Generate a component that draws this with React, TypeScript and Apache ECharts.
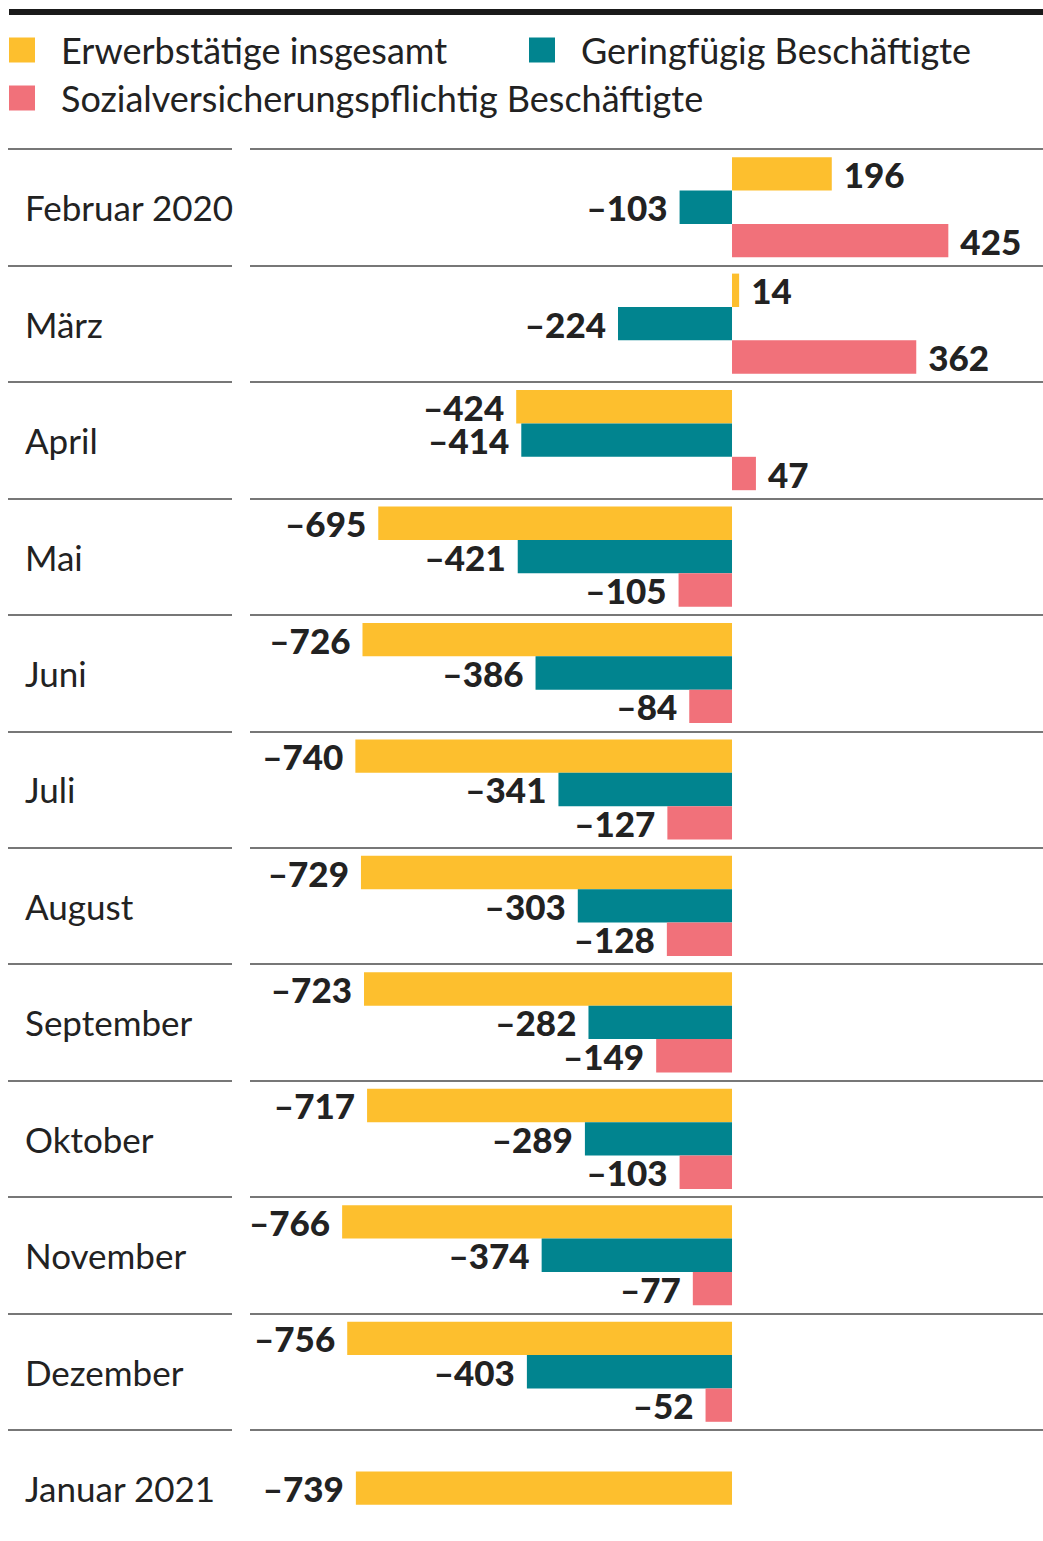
import React, { useEffect, useRef } from "react";
import * as echarts from "echarts";

const months = [
  "Februar 2020", "März", "April", "Mai", "Juni", "Juli", "August",
  "September", "Oktober", "November", "Dezember", "Januar 2021",
];
const erwerbstaetige = [196, 14, -424, -695, -726, -740, -729, -723, -717, -766, -756, -739];
const geringfuegig = [-103, -224, -414, -421, -386, -341, -303, -282, -289, -374, -403, null];
const sozialversichert = [425, 362, 47, -105, -84, -127, -128, -149, -103, -77, -52, null];

const NAME_E = "Erwerbstätige insgesamt";
const NAME_G = "Geringfügig Beschäftigte";
const NAME_S = "Sozialversicherungspflichtig Beschäftigte";
const C_E = "#FDBF2E";
const C_G = "#01848F";
const C_S = "#F1717A";
const FONT = "Lato";
const TEXT = "#222222";

export default function App() {
  const ref = useRef<HTMLDivElement>(null);
  useEffect(() => {
    document.body.style.margin = "0";
    document.body.style.overflow = "hidden";
    document.documentElement.style.overflow = "hidden";
    const chart = echarts.init(ref.current!, null, { renderer: "svg" });
    const top = 149;
    const rowH = 116.45;
    const gridH = rowH * months.length;

    const label = {
      show: true,
      distance: 12,
      fontFamily: FONT,
      fontWeight: 900,
      fontSize: 35,
      color: TEXT,
      formatter: (p: any) => String(p.value).replace("-", "–"),
    };
    const item = (v: number | null, color?: string) =>
      v == null
        ? null
        : {
            value: v,
            itemStyle: color ? { color } : undefined,
            label: { position: v < 0 ? "left" : "right" },
          };

    // Januar 2021 has only the total; it sits in the middle slot
    const dataE = erwerbstaetige.map((v, i) => (geringfuegig[i] == null ? null : item(v)));
    const dataG = geringfuegig.map((v, i) => (v == null ? item(erwerbstaetige[i], C_E) : item(v)));
    const dataS = sozialversichert.map((v) => item(v));

    const legendBase = {
      icon: "rect",
      itemWidth: 26,
      itemHeight: 25,
      padding: 0,
      selectedMode: false,
      textStyle: { fontFamily: FONT, fontSize: 36, color: TEXT, padding: [0, 0, 0, 21] },
    };

    chart.setOption({
      animation: false,
      backgroundColor: "#ffffff",
      legend: [
        { ...legendBase, left: 9, top: 32, data: [NAME_E] },
        { ...legendBase, left: 529, top: 32, data: [NAME_G] },
        { ...legendBase, left: 9, top: 80, data: [NAME_S] },
      ],
      graphic: [
        {
          type: "rect",
          shape: { x: 9, y: 9, width: 1034, height: 6 },
          style: { fill: "#1a1a1a" },
        },
      ],
      grid: [
        { left: 250, right: 0, top, height: gridH },
        { left: 8, width: 224, top, height: gridH },
      ],
      xAxis: [
        { type: "value", gridIndex: 0, min: -947, max: 611, show: false },
        { type: "value", gridIndex: 1, min: 0, max: 1, show: false },
      ],
      yAxis: [
        {
          type: "category",
          gridIndex: 0,
          data: months,
          inverse: true,
          axisLine: { show: false },
          axisTick: { show: false },
          axisLabel: { show: false },
          splitLine: { show: true, lineStyle: { color: "#4a4a4a", width: 1.5 } },
        },
        {
          type: "category",
          gridIndex: 1,
          data: months,
          inverse: true,
          axisLine: { show: false },
          axisTick: { show: false },
          axisLabel: {
            inside: true,
            margin: 17,
            fontFamily: FONT,
            fontSize: 35,
            color: TEXT,
          },
          splitLine: { show: true, lineStyle: { color: "#4a4a4a", width: 1.5 } },
        },
      ],
      series: [
        { name: NAME_E, type: "bar", xAxisIndex: 0, yAxisIndex: 0, data: dataE, itemStyle: { color: C_E }, barGap: "0%", barCategoryGap: "14%", label },
        { name: NAME_G, type: "bar", xAxisIndex: 0, yAxisIndex: 0, data: dataG, itemStyle: { color: C_G }, barGap: "0%", barCategoryGap: "14%", label },
        { name: NAME_S, type: "bar", xAxisIndex: 0, yAxisIndex: 0, data: dataS, itemStyle: { color: C_S }, barGap: "0%", barCategoryGap: "14%", label },
      ],
    });
    return () => chart.dispose();
  }, []);
  return <div ref={ref} style={{ width: 1043, height: 1560 }} />;
}
